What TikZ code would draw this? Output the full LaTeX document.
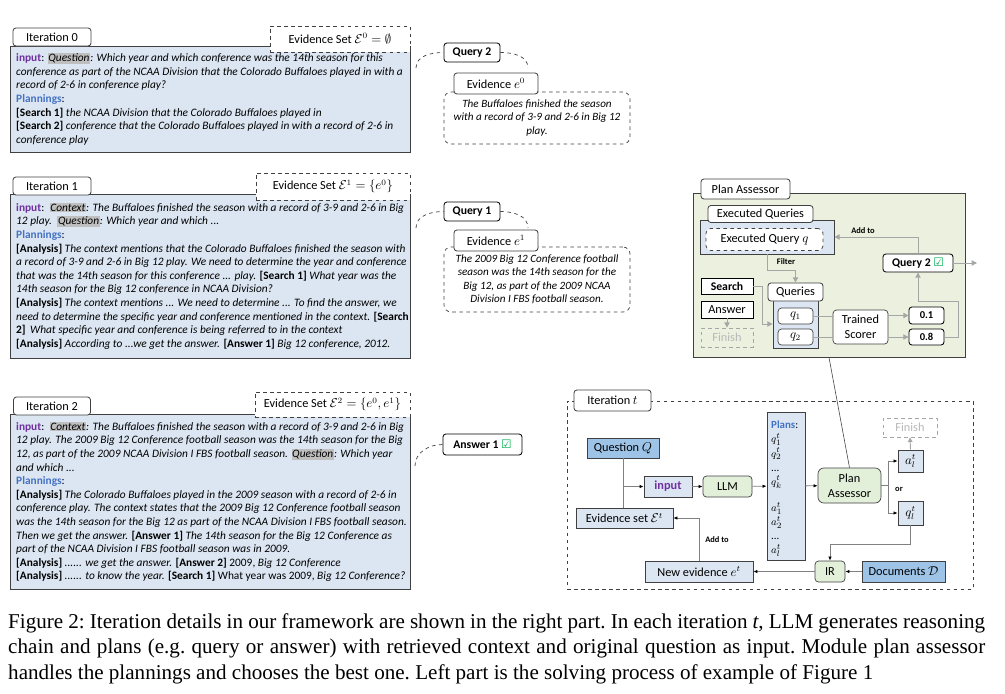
\documentclass[tikz,border=0pt]{standalone}
\usepackage{fontspec}
\setmainfont{Carlito}
\newfontfamily\symfont{DejaVu Sans}
\newfontfamily\capfont{Liberation Serif}
\usetikzlibrary{arrows.meta, positioning}

\definecolor{lblue}{HTML}{DCE6F2}
\definecolor{mblue}{HTML}{9DC3E6}
\definecolor{lgreen}{HTML}{E2F0D9}
\definecolor{pgreen}{HTML}{EBF1DE}
\definecolor{edge}{HTML}{404040}
\definecolor{lgray}{HTML}{A6A6A6}
\definecolor{hlgray}{HTML}{BFBFBF}
\definecolor{inpurple}{HTML}{7030A0}
\definecolor{planblue}{HTML}{4472C4}
\definecolor{okgreen}{HTML}{00B050}

\newdimen\pxu \pxu=0.03cm
\newcommand\hlt[1]{{\setlength\fboxsep{0.6pt}\colorbox{hlgray}{#1}}}
\newcommand\inp{\textcolor{inpurple}{\textbf{input}}}
\newcommand\plan{\textcolor{planblue}{\textbf{Plannings}}:}
\newcommand\okmark{{\symfont\textcolor{okgreen}{☑}}}

\begin{document}
\begin{tikzpicture}[
  x=0.03cm, y=-0.03cm,
  every node/.style = {inner sep=0pt, font=\fontsize{10.5}{12.5}\selectfont},
  sz/.style 2 args = {minimum width=#1\pxu, minimum height=#2\pxu},
  panel/.style = {draw=edge, line width=0.8pt, fill=lblue},
  tab/.style = {draw=edge, line width=0.7pt, fill=white, rounded corners=2.5pt},
  evset/.style = {draw=edge, dashed, line width=0.6pt, fill=white},
  body/.style = {anchor=north west, align=left, font=\fontsize{9.7}{11.6}\selectfont},
  tag/.style = {draw=black, line width=0.7pt, fill=white, rounded corners=2.5pt, font=\bfseries\fontsize{10}{12}\selectfont},
  note/.style = {draw=edge, dashed, line width=0.6pt, rounded corners=6pt, align=center, font=\itshape\fontsize{9.5}{11.5}\selectfont},
  link/.style = {draw=edge, dashed, line width=0.6pt},
  sq/.style = {draw=edge, line width=0.6pt},
  rnd/.style = {draw=edge, line width=0.6pt, rounded corners=3pt},
  ghost/.style = {draw=lgray, dashed, line width=0.6pt, text=lgray!80},
  gline/.style = {draw=lgray, line width=0.8pt},
  garrow/.style = {gline, -{Triangle[length=4.5pt, width=4.5pt]}},
  flow/.style = {draw=gray, line width=0.7pt, -{Latex[length=3.5pt, width=3pt, color=black]}},
  small/.style = {font=\bfseries\fontsize{7.2}{8}\selectfont}
]
\useasboundingbox (0,0) rectangle (1005,693);

% left part, iteration 0
\node[panel, sz={400}{106}] (p0) at (210,99) {};
\node[evset, sz={140}{26}] (es0) at (340,39) {Evidence Set $\mathcal{E}^0=\emptyset$};
\node[tab, sz={78}{18}] (it0) at (52,37) {Iteration 0};
\node[body] (p0txt) at (16,53) {\inp: \hlt{\textit{Question}}\textit{: Which year and which conference was the 14th season for this}\\
\textit{conference as part of the NCAA Division that the Colorado Buffaloes played in with a}\\
\textit{record of 2-6 in conference play?}\\
\plan\\
\textbf{[Search 1]} \textit{the NCAA Division that the Colorado Buffaloes played in}\\
\textbf{[Search 2]} \textit{conference that the Colorado Buffaloes played in with a record of 2-6 in}\\
\textit{conference play}};

% iteration 1
\node[panel, sz={400}{164}] (p1) at (210,276) {};
\node[evset, sz={154}{27}] (es1) at (333,186.5) {Evidence Set $\mathcal{E}^1=\{e^0\}$};
\node[tab, sz={78}{18}] (it1) at (52,186) {Iteration 1};
\node[body] (p1txt) at (16,203) {\inp:\, \hlt{\textit{Context}}\textit{: The Buffaloes finished the season with a record of 3-9 and 2-6 in Big}\\
\textit{12 play.}\, \hlt{\textit{Question}}\textit{: Which year and which ...}\\
\plan\\
\textbf{[Analysis]} \textit{The context mentions that the Colorado Buffaloes finished the season with}\\
\textit{a record of 3-9 and 2-6 in Big 12 play. We need to determine the year and conference}\\
\textit{that was the 14th season for this conference ... play.} \textbf{[Search 1]} \textit{What year was the}\\
\textit{14th season for the Big 12 conference in NCAA Division?}\\
\textbf{[Analysis]} \textit{The context mentions ... We need to determine ... To find the answer, we}\\
\textit{need to determine the specific year and conference mentioned in the context.} \textbf{[Search}\\
\textbf{2]}\, \textit{What specific year and conference is being referred to in the context}\\
\textbf{[Analysis]} \textit{According to ...we get the answer.} \textbf{[Answer 1]} \textit{Big 12 conference, 2012.}};

% iteration 2
\node[panel, sz={400}{175}] (p2) at (210,501.5) {};
\node[evset, sz={155}{25}] (es2) at (332.5,404.5) {Evidence Set $\mathcal{E}^2=\{e^0,e^1\}$};
\node[tab, sz={77}{18}] (it2) at (52,406) {Iteration 2};
\node[body] (p2txt) at (16,422) {\inp:\, \hlt{\textit{Context}}\textit{: The Buffaloes finished the season with a record of 3-9 and 2-6 in Big}\\
\textit{12 play. The 2009 Big 12 Conference football season was the 14th season for the Big}\\
\textit{12, as part of the 2009 NCAA Division I FBS football season.} \hlt{\textit{Question}}\textit{: Which year}\\
\textit{and which ...}\\
\plan\\
\textbf{[Analysis]} \textit{The Colorado Buffaloes played in the 2009 season with a record of 2-6 in}\\
\textit{conference play. The context states that the 2009 Big 12 Conference football season}\\
\textit{was the 14th season for the Big 12 as part of the NCAA Division I FBS football season.}\\
\textit{Then we get the answer.} \textbf{[Answer 1]} \textit{The 14th season for the Big 12 Conference as}\\
\textit{part of the NCAA Division I FBS football season was in 2009.}\\
\textbf{[Analysis]} \textit{...... we get the answer.} \textbf{[Answer 2]} 2009, \textit{Big 12 Conference}\\
\textbf{[Analysis]} \textit{...... to know the year.} \textbf{[Search 1]} What year was 2009, \textit{Big 12 Conference?}};

% queries and evidences
\node[note, sz={186}{52}] (n0) at (537,118) {The Buffaloes finished the season\\with a record of 3-9 and 2-6 in Big 12\\play.};
\node[tab, sz={84}{21}] (ev0) at (496,83.5) {Evidence $e^0$};
\node[tag, sz={56}{19}] (qy2) at (472,52.5) {Query 2};
\coordinate (s0) at (416,68);
\coordinate (t0) at (528,68);
\draw[link] (s0) to[out=90, in=180] (qy2.west);
\draw[link] (qy2.east) to[out=0, in=90] (t0);

\node[note, sz={186}{65}] (n1) at (537,279.5) {The 2009 Big 12 Conference football\\season was the 14th season for the\\Big 12, as part of the 2009 NCAA\\Division I FBS football season.};
\node[tab, sz={84}{21}] (ev1) at (496,240.5) {Evidence $e^1$};
\node[tag, sz={56}{19}] (qy1) at (472,211.5) {Query 1};
\coordinate (s1) at (416,228);
\coordinate (t1) at (528,228);
\draw[link] (s1) to[out=90, in=180] (qy1.west);
\draw[link] (qy1.east) to[out=0, in=90] (t1);

\node[tag, sz={79}{21}] (ans1) at (482.5,444.5) {Answer 1 \okmark};
\coordinate (s2) at (415,466);
\draw[link] (s2) to[out=90, in=180] (ans1.west);

% plan assessor
\node[draw=edge, line width=0.8pt, fill=pgreen, sz={272}{164}] (paBox) at (829,275) {};
\node[tab, sz={89}{20}] (paTab) at (745.5,189) {Plan Assessor};
\node[sq, fill=lblue, sz={134}{34}] (exBox) at (767,237) {};
\node[tab, sz={105}{17}] (exTab) at (760.5,214) {Executed Queries};
\node[draw=edge, dashed, line width=0.6pt, fill=white, rounded corners=4pt, sz={117}{22}] (exq) at (764.5,239.5) {Executed Query $q$};
\node[tag, sz={70}{18}] (q2sel) at (918,263) {Query 2 \okmark};
\node[draw=black, line width=0.7pt, fill=white, font=\bfseries\fontsize{10}{12}\selectfont, sz={52}{16}] (searchB) at (727,286) {Search};
\node[draw=black, line width=0.7pt, fill=white, sz={52}{17}] (answerB) at (727,309.5) {Answer};
\node[ghost, sz={52}{19}] (finishB) at (727,337.5) {Finish};
\node[sq, fill=lblue, sz={45}{48}] (qBox) at (795.5,324) {};
\node[tab, sz={55}{18}] (qTab) at (795.5,292) {Queries};
\node[rnd, fill=white, sz={35}{16}] (q1b) at (795.5,316) {$q_1$};
\node[rnd, fill=white, sz={35}{16}] (q2b) at (795.5,337) {$q_2$};
\node[rnd, fill=white, align=center, sz={55}{34}] (scorer) at (860.5,327) {Trained\\Scorer};
\node[tag, font=\bfseries\fontsize{9}{11}\selectfont, sz={35}{17}] (s01) at (926.5,315.5) {0.1};
\node[tag, font=\bfseries\fontsize{9}{11}\selectfont, sz={35}{16}] (s08) at (926.5,337) {0.8};
\coordinate (pout) at (977,263);

\draw[garrow] (q2sel.north) |- (exBox.east);
\node[small] (addA) at (863,231) {Add to};
\draw[garrow] (exBox.south) -- ++(0,16) -| (qTab.north);
\node[small] (filt) at (786,262) {Filter};
\draw[garrow] (searchB.east) -- ++(9,0) |- (qBox.west);
\draw[garrow] (answerB.south) -- (finishB.north);
\draw[gline] (q1b.east) -- (q1b.east -| scorer.west);
\draw[gline] (q2b.east) -- (q2b.east -| scorer.west);
\draw[garrow] (scorer.east |- s01.west) -- (s01.west);
\draw[garrow] (scorer.east |- s08.west) -- (s08.west);
\draw[garrow] (s08.east) -- ++(14,0) -- ++(0,-36) -| (q2sel.south);
\draw[garrow] (q2sel.east) -- (pout);

% iteration t
\node[draw=edge, dashed, line width=0.7pt, sz={406}{188}] (itBox) at (770,495) {};
\node[tab, sz={77}{21}] (itTab) at (612.5,400.5) {Iteration $t$};
\node[sq, fill=mblue, sz={72}{20}] (qQ) at (623,448) {Question $Q$};
\node[sq, fill=lblue, text=inpurple, font=\bfseries\fontsize{10.5}{12.5}\selectfont, sz={48}{21}] (inp) at (668,486.5) {input};
\node[rnd, fill=lgreen, sz={49}{21}] (llm) at (727.5,486.5) {LLM};
\node[sq, fill=lblue, sz={38}{148}] (plans) at (786,486) {};
\node[body, font=\fontsize{9.3}{12}\selectfont] (plantxt) at (771,421) {\textcolor{planblue}{\textbf{Plans}}:\\ $q_1^t$\\ $q_2^t$\\ ...\\ $q_k^t$\\[10.5pt] $a_1^t$\\ $a_2^t$\\ ...\\ $a_l^t$};
\node[rnd, fill=lgreen, rounded corners=5pt, align=center, sz={63}{35}] (pa2) at (849.5,485.5) {Plan\\Assessor};
\node[sq, fill=lblue, sz={25}{22}] (aB) at (910.5,461) {$a_l^t$};
\node[sq, fill=lblue, sz={25}{24}] (qB) at (910.5,513) {$q_l^t$};
\node[ghost, sz={54}{19}] (finT) at (910,427.5) {Finish};
\node[sq, fill=lblue, sz={97}{20}] (evs) at (624.5,518) {Evidence set $\mathcal{E}^t$};
\node[sq, fill=lblue, sz={108}{21}] (newev) at (699,571.5) {New evidence $e^t$};
\node[rnd, fill=lgreen, sz={30}{21}] (ir) at (830,571.5) {IR};
\node[sq, fill=mblue, sz={83}{21}] (docs) at (903.5,571.5) {Documents $\mathcal{D}$};
\node[small] (orl) at (899,489) {or};
\node[small] (addB) at (717,540) {Add to};

\draw[draw=gray, line width=0.7pt] (qQ.south) -- (qQ.south |- evs.north);
\draw[flow] (qQ.south |- inp.west) -- (inp.west);
\draw[flow] (inp) -- (llm);
\draw[flow] (llm) -- (plans);
\draw[flow] (plans) -- (pa2);
\draw[flow] (pa2.east) -- ++(7,0) |- (aB.west);
\draw[flow] (pa2.east) -- ++(7,0) |- (qB.west);
\draw[gline, -{Triangle[length=4pt, width=4pt]}] (aB.north) -- (finT.south);
\draw[flow] (qB.south) -- ++(0,19) -| (ir.north);
\draw[flow] (docs) -- (ir);
\draw[flow] (ir) -- (newev);
\draw[flow] (newev.north) |- (evs.east);
\draw[draw=edge, line width=0.5pt] (paBox.south) -- (pa2.north);

% caption
\node[anchor=north west, text width=977\pxu, align=justify, font=\capfont\fontsize{18}{21.8}\selectfont] (cap) at (8,613) {\frenchspacing Figure 2: Iteration details in our framework are shown in the right part. In each iteration \textit{t}, LLM generates reasoning\linebreak chain and plans (e.g.\ query or answer) with retrieved context and original question as input. Module plan assessor\linebreak handles the plannings and chooses the best one. Left part is the solving process of example of Figure 1};
\end{tikzpicture}
\end{document}
